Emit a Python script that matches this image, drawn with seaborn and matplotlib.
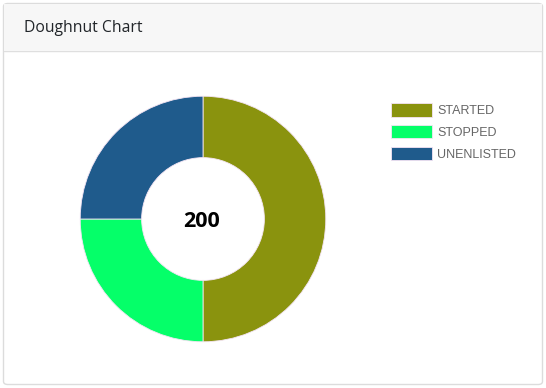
import matplotlib
matplotlib.use("Agg")
import matplotlib.pyplot as plt
import seaborn as sns
from matplotlib.patches import FancyBboxPatch, Rectangle
from matplotlib.lines import Line2D

# data
labels = ["STARTED", "STOPPED", "UNENLISTED"]
values = [100, 50, 50]
colors = ["#8A930E", "#05FF69", "#1F5B8C"]
title = "Doughnut Chart"

sns.set_theme(style="white")
plt.rcParams["font.family"] = ["Open Sans", "DejaVu Sans"]

W, H = 546, 388
fig = plt.figure(figsize=(W / 100, H / 100), dpi=100)
fig.patch.set_facecolor("white")

# card frame + header
card = FancyBboxPatch((3.5 / W, 3.5 / H), 539 / W, 381 / H,
                      boxstyle="round,pad=0,rounding_size=0.008",
                      transform=fig.transFigure, facecolor="white",
                      edgecolor="#DCDCDC", linewidth=1, zorder=-2)
fig.patches.append(card)
header = Rectangle((4 / W, 1 - 51 / H), 538 / W, 47 / H,
                   transform=fig.transFigure, facecolor="#F7F7F7",
                   edgecolor="none", zorder=-1)
fig.patches.append(header)
fig.lines.append(Line2D([4 / W, 542 / W], [1 - 51 / H, 1 - 51 / H],
                        transform=fig.transFigure, color="#DFDFDF", lw=1, zorder=-1))
fig.text(24 / W, 1 - 28 / H, title, fontsize=11.3, color="#212529",
         va="center", ha="left", zorder=3)

# doughnut
cx, cy, r = 203, 219, 124
ax = fig.add_axes([(cx - r) / W, 1 - (cy + r) / H, 2 * r / W, 2 * r / H])
ax.set_zorder(5)
ax.patch.set_alpha(0)
wedges, _ = ax.pie(values, colors=colors, startangle=90, counterclock=False,
                   radius=1, wedgeprops=dict(width=0.5, edgecolor="#F4E4F4", linewidth=0.6))
ax.set_xlim(-1.01, 1.01)
ax.set_ylim(-1.01, 1.01)
ax.set_aspect("equal")
ax.axis("off")
ax.text(-0.01, -0.02, str(sum(values)), ha="center", va="center",
        fontsize=15.5, fontweight="bold", color="black")

leg = fig.legend(wedges, labels, loc="upper left",
                 bbox_to_anchor=(391 / W, 1 - 103 / H), frameon=False,
                 prop={"family": ["Liberation Sans"], "size": 9},
                 labelcolor="#666666", handlelength=3.3, handleheight=1.3,
                 handletextpad=0.4, labelspacing=0.62, borderpad=0, borderaxespad=0)
leg.set_zorder(6)

fig.savefig("out.png", dpi=100)
